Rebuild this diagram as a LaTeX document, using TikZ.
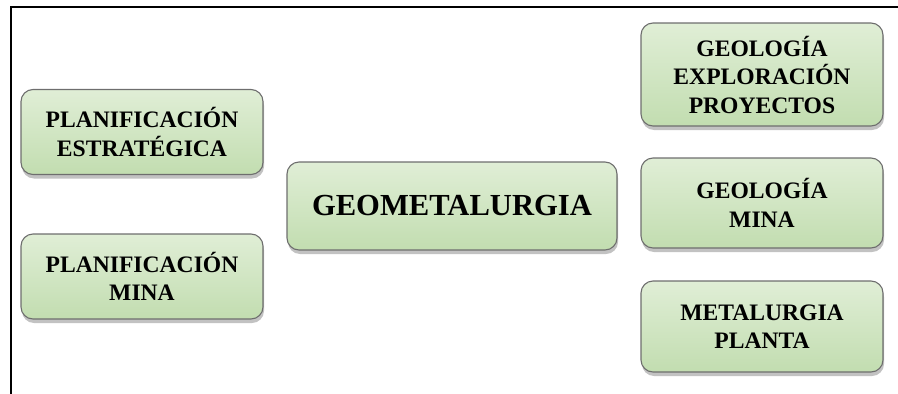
\documentclass[tikz,border=0pt]{standalone}
\usepackage{fontspec}
\setmainfont{Liberation Serif}
\usetikzlibrary{shadows}
\definecolor{boxtop}{RGB}{224,238,214}
\definecolor{boxbot}{RGB}{194,221,176}
\definecolor{boxline}{RGB}{110,110,110}
\tikzset{
  greenbox/.style={rectangle, rounded corners=12pt, draw=boxline, line width=1.1pt,
    top color=boxtop, bottom color=boxbot, align=center, inner sep=0pt,
    minimum width=242pt, font=\bfseries\fontsize{23.6}{28.5}\selectfont,
    drop shadow={shadow xshift=1pt, shadow yshift=-4pt, opacity=0.4, fill=black!60}},
  frameline/.style={line width=2pt, black}
}
\begin{document}
\begin{tikzpicture}[x=1pt,y=-1pt]
\useasboundingbox (0,0) rectangle (898,394);
\coordinate (fbl) at (11,394);
\coordinate (ftl) at (11,7);
\coordinate (ftr) at (898,7);
\draw[frameline] (fbl) -- (ftl) -- (ftr);
\node[greenbox, minimum height=85pt] (pe) at (142,132) {PLANIFICACIÓN\\ESTRATÉGICA};
\node[greenbox, minimum height=85pt] (pm) at (142,276.5) {PLANIFICACIÓN\\MINA};
\node[greenbox, minimum width=330pt, minimum height=88pt, font=\bfseries\fontsize{30.6}{36}\selectfont] (geo) at (452,206) {GEOMETALURGIA};
\node[greenbox, minimum height=103pt] (gep) at (762,74.5) {GEOLOGÍA\\EXPLORACIÓN\\PROYECTOS};
\node[greenbox, minimum height=90pt] (gm) at (762,203) {GEOLOGÍA\\MINA};
\node[greenbox, minimum height=91pt] (mp) at (762,326.5) {METALURGIA\\PLANTA};
\end{tikzpicture}
\end{document}
